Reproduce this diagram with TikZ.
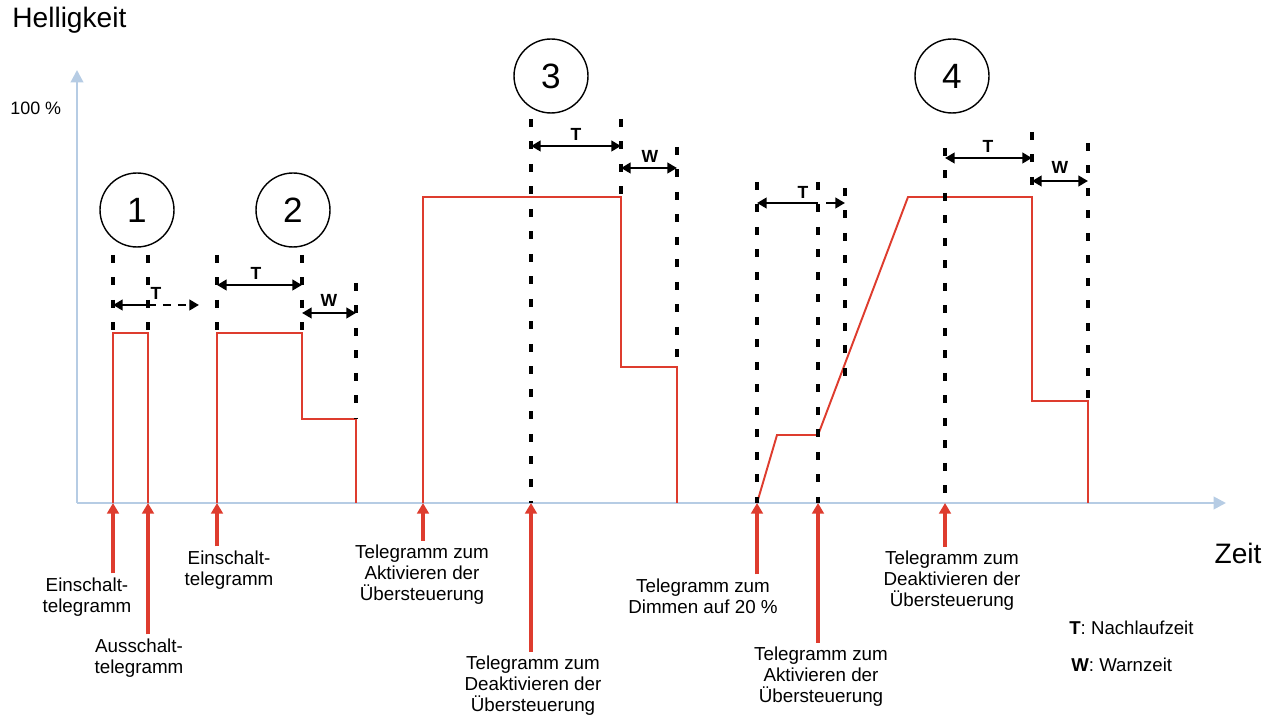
\documentclass[tikz,border=0pt]{standalone}
\usepackage{fontspec}
\setmainfont{Liberation Sans}
\usepackage{xcolor}
\usetikzlibrary{arrows.meta,calc,positioning}
\definecolor{achsblau}{RGB}{182,204,228}
\definecolor{kurvrot}{RGB}{222,60,46}

\begin{document}
\begin{tikzpicture}[x=0.02cm,y=-0.02cm,
    achse/.style={achsblau,line width=1.5pt,-{Triangle[length=7pt,width=7pt]}},
    kurve/.style={kurvrot,line width=1.1pt,line join=miter},
    markierung/.style={black,line width=1.8pt,dash pattern=on 4.5pt off 8.3pt},
    spanne/.style={black,line width=1.5pt},
    telpfeil/.style={kurvrot,line width=1.8pt,-{Triangle[length=6pt,width=6.6pt]}},
    beschr/.style={align=center,inner sep=0pt,font=\fontsize{10.7}{11.9}\selectfont},
    nummer/.style={circle,draw,line width=0.8pt,minimum size=1.48cm,inner sep=0pt,font=\fontsize{20}{24}\selectfont},
    zeichen/.style={inner sep=0pt,font=\fontsize{10}{12}\selectfont\bfseries}]
  \useasboundingbox (0,0) rectangle (1271,715);
  % Achsen
  \coordinate (ursprung) at (77,503);
  \draw[achse] (ursprung) -- (77,70);
  \draw[achse] (ursprung) -- (1226,503);
  \node[anchor=west,inner sep=0pt,font=\fontsize{16}{19}\selectfont] (hell) at (12,20) {Helligkeit};
  \node[anchor=west,inner sep=0pt,font=\fontsize{10.2}{12}\selectfont] (hundert) at (10,108) {100 \%};
  \node[inner sep=0pt,font=\fontsize{16}{19}\selectfont] (zeit) at (1238,553) {Zeit};
  % Helligkeitsverlauf
  \draw[kurve] (113,503) -- (113,333) -- (148,333) -- (148,503);
  \draw[kurve] (217,503) -- (217,333) -- (302,333) -- (302,419) -- (356,419) -- (356,503);
  \draw[kurve] (423,503) -- (423,197) -- (621,197) -- (621,367) -- (677,367) -- (677,503);
  \draw[kurve] (757,503) -- (777,435) -- (818,435) -- (908,197) -- (1032,197) -- (1032,401) -- (1088,401) -- (1088,503);
  % Zeitmarken
  \foreach \x/\oben/\unten in {113/255/333,148/255/333,217/255/333,302/255/333,356/283/419,
      531/119/503,621/119/197,677/147/367,757/182/503,818/182/503,845/188/383,
      945/148/503,1032/132/197,1088/143/401}
    \draw[markierung] (\x,\oben) -- (\x,\unten);
  % Nummern
  \node[nummer] (n1) at (137,210) {1};
  \node[nummer] (n2) at (293,210) {2};
  \node[nummer] (n3) at (551,76) {3};
  \node[nummer] (n4) at (952,76) {4};
  % Nachlauf- und Warnzeiten
  \draw[spanne,{Triangle[length=5.5pt,width=6pt]}-] (113,305) -- (148,305);
  \draw[spanne,dash pattern=on 4.5pt off 4pt,-{Triangle[length=5.5pt,width=6pt]}] (148,305) -- (199,305);
  \node[zeichen] (t1) at (156,293) {T};
  \draw[spanne,{Triangle[length=5.5pt,width=6pt]}-{Triangle[length=5.5pt,width=6pt]}] (217,285) -- (302,285);
  \node[zeichen] (t2) at (256,273) {T};
  \draw[spanne,{Triangle[length=5.5pt,width=6pt]}-{Triangle[length=5.5pt,width=6pt]}] (302,313) -- (356,313);
  \node[zeichen] (w2) at (329,300) {W};
  \draw[spanne,{Triangle[length=5.5pt,width=6pt]}-{Triangle[length=5.5pt,width=6pt]}] (531,146) -- (621,146);
  \node[zeichen] (t3) at (576,134) {T};
  \draw[spanne,{Triangle[length=5.5pt,width=6pt]}-{Triangle[length=5.5pt,width=6pt]}] (621,168) -- (677,168);
  \node[zeichen] (w3) at (650,156) {W};
  \draw[spanne,{Triangle[length=5.5pt,width=6pt]}-] (757,203) -- (818,203);
  \draw[spanne,-{Triangle[length=5.5pt,width=6pt]}] (826,203) -- (845,203);
  \node[zeichen] (t4a) at (803,192) {T};
  \draw[spanne,{Triangle[length=5.5pt,width=6pt]}-{Triangle[length=5.5pt,width=6pt]}] (945,158) -- (1032,158);
  \node[zeichen] (t4) at (988,146) {T};
  \draw[spanne,{Triangle[length=5.5pt,width=6pt]}-{Triangle[length=5.5pt,width=6pt]}] (1032,181) -- (1088,181);
  \node[zeichen] (w4) at (1060,167) {W};
  % Telegramme
  \foreach \name/\x in {ein1/113,aus1/148,ein2/217,akt3/423,deakt3/531,dimm4/757,akt4/818,deakt4/945}
    \coordinate (\name) at (\x,503);
  \node[beschr] (lein1) at (87,597) {Einschalt-\\telegramm};
  \node[beschr] (laus1) at (139,658) {Ausschalt-\\telegramm};
  \node[beschr] (lein2) at (229,570) {Einschalt-\\telegramm};
  \node[beschr] (lakt3) at (422,575) {Telegramm zum\\Aktivieren der\\Übersteuerung};
  \node[beschr] (ldeakt3) at (533,686) {Telegramm zum\\Deaktivieren der\\Übersteuerung};
  \node[beschr] (ldimm4) at (703,596) {Telegramm zum\\Dimmen auf 20 \%};
  \node[beschr] (lakt4) at (821,677) {Telegramm zum\\Aktivieren der\\Übersteuerung};
  \node[beschr] (ldeakt4) at (952,581) {Telegramm zum\\Deaktivieren der\\Übersteuerung};
  \draw[telpfeil] ($(lein1.north -| ein1)+(0,-4)$) -- (ein1);
  \draw[telpfeil] ($(laus1.north -| aus1)+(0,-4)$) -- (aus1);
  \draw[telpfeil] ($(lein2.north -| ein2)+(0,-4)$) -- (ein2);
  \draw[telpfeil] ($(lakt3.north -| akt3)+(0,-4)$) -- (akt3);
  \draw[telpfeil] ($(ldeakt3.north -| deakt3)+(0,-4)$) -- (deakt3);
  \draw[telpfeil] ($(ldimm4.north -| dimm4)+(0,-4)$) -- (dimm4);
  \draw[telpfeil] ($(lakt4.north -| akt4)+(0,-4)$) -- (akt4);
  \draw[telpfeil] ($(ldeakt4.north -| deakt4)+(0,-4)$) -- (deakt4);
  % Legende
  \node[anchor=west,inner sep=0pt,font=\fontsize{10.6}{12}\selectfont] (legt) at (1069,628) {\textbf{T}: Nachlaufzeit};
  \node[anchor=west,inner sep=0pt,font=\fontsize{10.6}{12}\selectfont] (legw) at (1071,665) {\textbf{W}: Warnzeit};
\end{tikzpicture}
\end{document}
